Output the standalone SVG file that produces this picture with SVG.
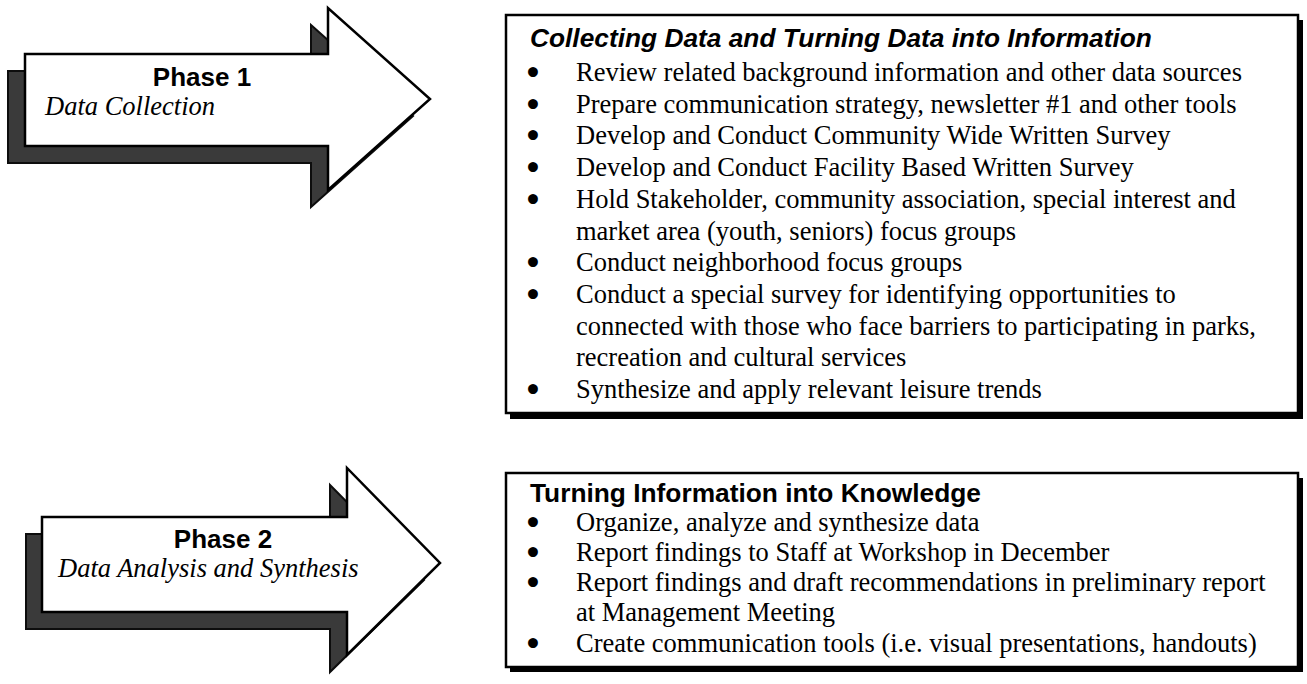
<svg xmlns="http://www.w3.org/2000/svg" width="1307" height="684" viewBox="0 0 1307 684">
  <defs>
    <style>
      .arrow { fill: #ffffff; stroke: #000000; stroke-width: 2.5; stroke-linejoin: miter; }
      .arrow-shadow { fill: #3a3a3a; stroke: #0d0d0d; stroke-width: 2; }
      .box { fill: #ffffff; stroke: #000000; stroke-width: 2.5; }
      .box-shadow { fill: #000000; }
      .phase { font-family: "Liberation Sans", Arial, sans-serif; font-weight: bold; font-size: 26px; fill: #000; text-anchor: middle; }
      .phase-sub { font-family: "Liberation Serif", "Times New Roman", serif; font-style: italic; font-size: 26.5px; fill: #000; }
      .head { font-family: "Liberation Sans", Arial, sans-serif; font-weight: bold; font-size: 26.3px; fill: #000; }
      .head-it { font-style: italic; }
      .item { font-family: "Liberation Serif", "Times New Roman", serif; font-size: 26.5px; fill: #000; }
      .bullet { font-family: "DejaVu Sans", sans-serif; font-size: 28px; font-weight: bold; fill: #000; text-anchor: middle; }
    </style>
  </defs>

  <!-- Phase 1 block arrow -->
  <g id="phase1-arrow">
    <polygon class="arrow-shadow" points="8,71 311,71 311,25 413,116 311,207 311,163 8,163"/>
    <polygon class="arrow" points="25,54 328,54 328,8 430,99 328,190 328,146 25,146"/>
    <text class="phase" x="202" y="86">Phase 1</text>
    <text class="phase-sub" x="45" y="115">Data Collection</text>
  </g>

  <!-- Phase 2 block arrow -->
  <g id="phase2-arrow">
    <polygon class="arrow-shadow" points="26,534 330,534 330,485 424,580 330,672 330,629 26,629"/>
    <polygon class="arrow" points="42,517 347,517 347,468 440,563 347,655 347,612 42,612"/>
    <text class="phase" x="223" y="548">Phase 2</text>
    <text class="phase-sub" x="58" y="577">Data Analysis and Synthesis</text>
  </g>

  <!-- Phase 1 task list -->
  <g id="phase1-tasks">
    <rect class="box-shadow" x="510" y="20" width="793" height="399"/>
    <rect class="box" x="506" y="15" width="792" height="398"/>
    <text class="head head-it" x="530" y="47">Collecting Data and Turning Data into Information</text>
    <text class="bullet" x="533" y="83">•</text>
    <text class="item" x="576" y="81">Review related background information and other data sources</text>
    <text class="bullet" x="533" y="115">•</text>
    <text class="item" x="576" y="113">Prepare communication strategy, newsletter #1 and other tools</text>
    <text class="bullet" x="533" y="146">•</text>
    <text class="item" x="576" y="144">Develop and Conduct Community Wide Written Survey</text>
    <text class="bullet" x="533" y="178">•</text>
    <text class="item" x="576" y="176">Develop and Conduct Facility Based Written Survey</text>
    <text class="bullet" x="533" y="210">•</text>
    <text class="item" x="576" y="208">Hold Stakeholder, community association, special interest and</text>
    <text class="item" x="576" y="240">market area (youth, seniors) focus groups</text>
    <text class="bullet" x="533" y="273">•</text>
    <text class="item" x="576" y="271">Conduct neighborhood focus groups</text>
    <text class="bullet" x="533" y="305">•</text>
    <text class="item" x="576" y="303">Conduct a special survey for identifying opportunities to</text>
    <text class="item" x="576" y="335">connected with those who face barriers to participating in parks,</text>
    <text class="item" x="576" y="366">recreation and cultural services</text>
    <text class="bullet" x="533" y="400">•</text>
    <text class="item" x="576" y="398">Synthesize and apply relevant leisure trends</text>
  </g>

  <!-- Phase 2 task list -->
  <g id="phase2-tasks">
    <rect class="box-shadow" x="510" y="478" width="793" height="194"/>
    <rect class="box" x="506" y="473" width="792" height="194"/>
    <text class="head" x="530" y="502">Turning Information into Knowledge</text>
    <text class="bullet" x="533" y="533">•</text>
    <text class="item" x="576" y="531">Organize, analyze and synthesize data</text>
    <text class="bullet" x="533" y="563">•</text>
    <text class="item" x="576" y="561">Report findings to Staff at Workshop in December</text>
    <text class="bullet" x="533" y="593">•</text>
    <text class="item" x="576" y="591">Report findings and draft recommendations in preliminary report</text>
    <text class="item" x="576" y="621">at Management Meeting</text>
    <text class="bullet" x="533" y="654">•</text>
    <text class="item" x="576" y="652">Create communication tools (i.e. visual presentations, handouts)</text>
  </g>
</svg>
